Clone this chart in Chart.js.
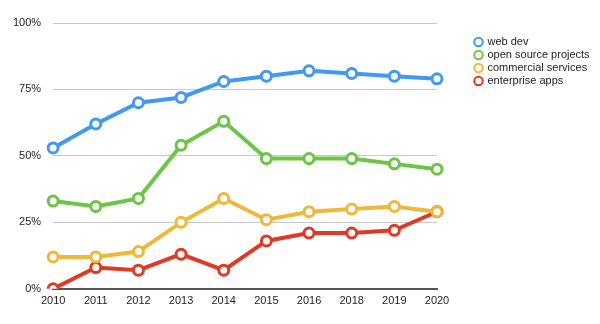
<!DOCTYPE html>
<html>
<head>
<meta charset="utf-8">
<script src="https://cdn.jsdelivr.net/npm/chart.js@4"></script>
<style>
  html, body { margin: 0; padding: 0; background: #fff; }
  #wrap { width: 600px; height: 324px; }
</style>
</head>
<body>
<div id="wrap"><canvas id="langChart"></canvas></div>
<script>
const years = ['2010', '2011', '2012', '2013', '2014', '2015', '2016', '2018', '2019', '2020'];
const webDev = [53, 62, 70, 72, 78, 80, 82, 81, 80, 79];
const openSource = [33, 31, 34, 54, 63, 49, 49, 49, 47, 45];
const commercial = [12, 12, 14, 25, 34, 26, 29, 30, 31, 29];
const enterprise = [0, 8, 7, 13, 7, 18, 21, 21, 22, 29];
const yTicks = [0, 25, 50, 75, 100];

const font = "'Liberation Sans', Arial, sans-serif";

// legend sits a bit away from the plot, top aligned lower than the grid
const legendBoxWidth = 163;
const legendShiftX = 36;
const legendShiftY = 11.5;

const legendPlacer = {
  id: 'legendPlacer',
  beforeLayout(chart) {
    const lg = chart.legend;
    if (lg && !lg._patched) {
      const fit = lg.fit;
      lg.fit = function () { fit.call(this); this.width = legendBoxWidth; };
      lg._patched = true;
    }
  },
  afterLayout(chart) {
    chart.legend.left += legendShiftX;
    chart.legend.top += legendShiftY;
  }
};

function series(label, data, color) {
  return {
    label: label,
    data: data,
    borderColor: color,
    backgroundColor: '#fff',
    borderWidth: 4,
    pointRadius: 5,
    pointBorderWidth: 3,
    pointBackgroundColor: '#fff',
    pointBorderColor: color,
    tension: 0
  };
}

new Chart(document.getElementById('langChart'), {
  type: 'line',
  data: {
    labels: years,
    datasets: [
      series('web dev', webDev, '#3f9af0'),
      series('open source projects', openSource, '#6cc544'),
      series('commercial services', commercial, '#f0b83a'),
      series('enterprise apps', enterprise, '#e03a26')
    ]
  },
  options: {
    responsive: true,
    maintainAspectRatio: false,
    animation: false,
    layout: { padding: { top: 23, left: 1, right: 0, bottom: 10 } },
    plugins: {
      legend: {
        position: 'right',
        align: 'start',
        labels: {
          usePointStyle: true,
          pointStyle: 'circle',
          boxWidth: 7,
          boxHeight: 6,
          padding: 2,
          color: '#222',
          font: { family: font, size: 11 },
          generateLabels: chart =>
            Chart.defaults.plugins.legend.labels.generateLabels(chart)
              .map(item => Object.assign(item, { lineWidth: 2, fillStyle: '#fff' }))
        }
      },
      tooltip: { enabled: false }
    },
    scales: {
      x: {
        offset: false,
        grid: { display: false, drawTicks: false },
        border: { color: '#555', width: 2 },
        ticks: { color: '#222', font: { family: font, size: 11 }, padding: 6, maxRotation: 0 }
      },
      y: {
        min: 0,
        max: 100,
        afterBuildTicks: axis => { axis.ticks = yTicks.map(v => ({ value: v })); },
        grid: { color: '#c8c8c8', drawTicks: false },
        border: { display: false },
        ticks: {
          color: '#222',
          font: { family: font, size: 11 },
          padding: 12,
          callback: v => v + '%'
        }
      }
    }
  },
  plugins: [legendPlacer]
});
</script>
</body>
</html>
